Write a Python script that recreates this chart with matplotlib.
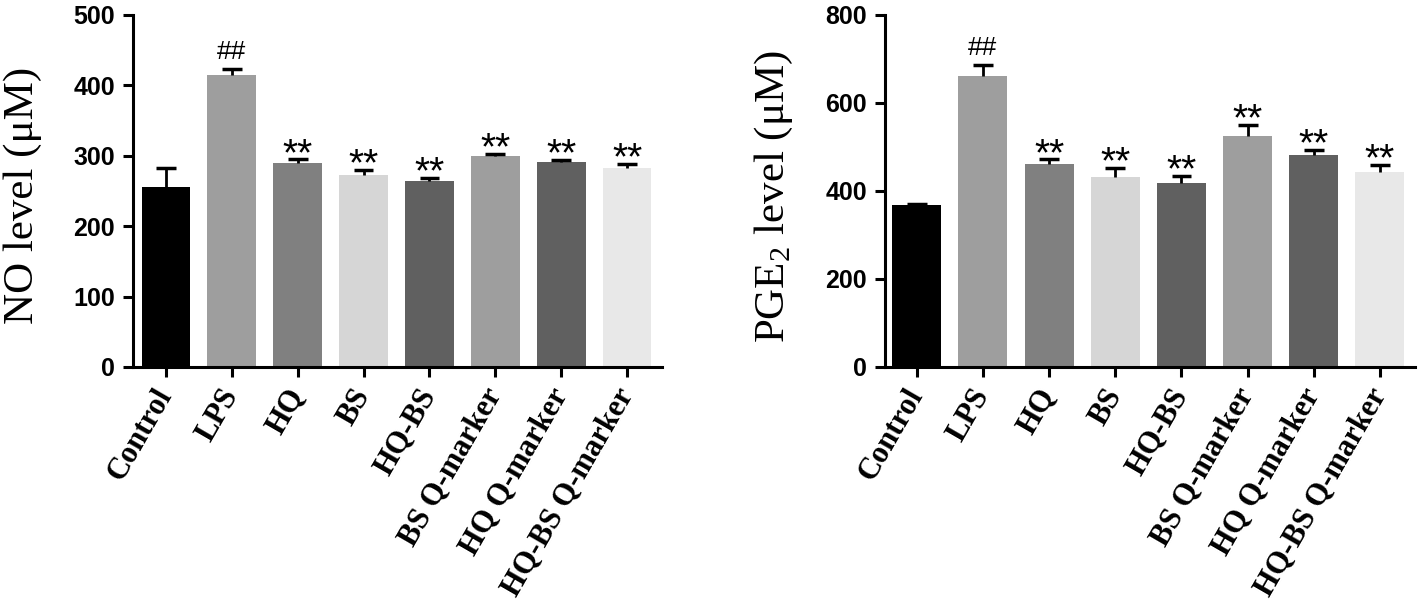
import matplotlib
matplotlib.use("Agg")
import matplotlib.pyplot as plt
import numpy as np

categories = ["Control", "LPS", "HQ", "BS", "HQ-BS", "BS Q-marker", "HQ Q-marker", "HQ-BS Q-marker"]
no_mean = [256, 415, 290, 273, 264, 300, 291, 282]
no_err = [26, 8, 5, 7, 5, 3, 3, 6]
pge_mean = [368, 661, 462, 432, 419, 525, 481, 443]
pge_err = [3, 25, 10, 21, 16, 26, 12, 16]
marks = ["", "##", "**", "**", "**", "**", "**", "**"]
colors = ["#000000", "#9e9e9e", "#808080", "#d6d6d6", "#606060", "#9e9e9e", "#606060", "#e8e8e8"]

fig = plt.figure(figsize=(14.18, 6.09), dpi=100)
ax1 = fig.add_axes([133 / 1418, 242 / 609, 529 / 1418, 352 / 609])
ax2 = fig.add_axes([885 / 1418, 242 / 609, 530 / 1418, 352 / 609])

def draw(ax, mean, err, ymax, ystep, label, xlim):
    x = np.arange(len(categories))
    mean = np.asarray(mean, dtype=float)
    err = np.asarray(err, dtype=float)
    ax.bar(x, mean, width=0.74, color=colors, edgecolor="none", zorder=2)
    ax.vlines(x, mean, mean + err, color="black", linewidth=2, zorder=3)
    ax.hlines(mean + err, x - 0.15, x + 0.15, color="black", linewidth=2.5, zorder=3)
    for xi, m, e, t in zip(x, mean, err, marks):
        if not t:
            continue
        if t == "##":
            ax.annotate(t, (xi, m + e), xytext=(0, 7), textcoords="offset points",
                        ha="center", va="baseline", fontsize=19,
                        family="Liberation Sans", color="black")
        else:
            ax.annotate(t, (xi, m + e), xytext=(0, -4), textcoords="offset points",
                        ha="center", va="baseline", fontsize=28,
                        family="Liberation Sans", color="black")
    ax.set_xlim(*xlim)
    ax.set_ylim(0, ymax)
    ax.set_yticks(np.arange(0, ymax + 1, ystep))
    ax.set_xticks(x)
    ax.set_xticklabels(categories, rotation=60, ha="right", va="center",
                       rotation_mode="anchor",
                       family="Liberation Serif", fontweight="bold", fontsize=22)
    for lab in ax.get_yticklabels():
        lab.set_family("Liberation Sans")
        lab.set_fontweight("bold")
        lab.set_fontsize(18)
    ax.spines["top"].set_visible(False)
    ax.spines["right"].set_visible(False)
    ax.spines["left"].set_linewidth(2.2)
    ax.spines["bottom"].set_linewidth(2.2)
    ax.tick_params(axis="y", width=2.2, length=7, direction="out", pad=6)
    ax.tick_params(axis="x", width=2.2, length=7, direction="out", pad=10)
    ax.set_ylabel(label, family="Liberation Serif", fontsize=31)

draw(ax1, no_mean, no_err, 500, 100, "NO level (μM)", (-0.50, 7.53))
draw(ax2, pge_mean, pge_err, 800, 200, r"PGE$_\mathregular{2}$ level (μM)", (-0.48, 7.53))
ax1.yaxis.set_label_coords(-0.172, 0.486)
ax2.yaxis.set_label_coords(-0.170, 0.485)

fig.savefig("out.png", dpi=100)
